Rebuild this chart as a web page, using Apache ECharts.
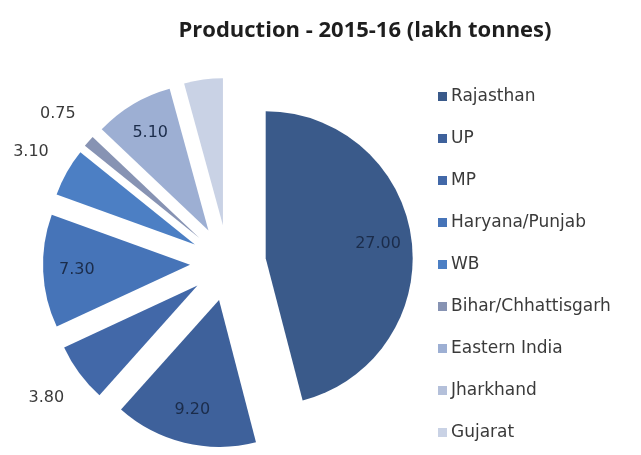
<!DOCTYPE html>
<html>
<head>
<meta charset="utf-8">
<script src="https://cdn.jsdelivr.net/npm/echarts@6/dist/echarts.min.js"></script>
<style>
  html, body { margin: 0; padding: 0; background: #ffffff; }
  #chart { width: 641px; height: 455px; }
</style>
</head>
<body>
<div id="chart"></div>
<script>
// Production by state, 2015-16, in lakh tonnes
const categories = ['Rajasthan', 'UP', 'MP', 'Haryana/Punjab', 'WB',
  'Bihar/Chhattisgarh', 'Eastern India', 'Jharkhand', 'Gujarat'];
const production = [27.00, 9.20, 3.80, 7.30, 3.10, 0.75, 5.10, 0, 2.50];
const sliceColors = ['#3a5a8a', '#3e619b', '#4268a8', '#4674b8', '#4c7fc4',
  '#8793b3', '#9dafd3', '#b4c0da', '#c9d2e5'];

// which value labels sit beyond the rim, and which are not drawn at all
const outerLabelNames = ['MP', 'WB', 'Bihar/Chhattisgarh'];
const hiddenLabelNames = ['Jharkhand', 'Gujarat'];

const TITLE_FONT = 'Open Sans';
const FONT = 'DejaVu Sans';
const R = 147;
const CENTER = [228, 263];
const EXPLODE = 38;

function sliceData(withColor, labelFilter, labelColor) {
  return categories.map((name, i) => ({
    name: name,
    value: production[i],
    selected: true,
    itemStyle: withColor ? { color: sliceColors[i] } : { color: 'rgba(0,0,0,0)' },
    label: {
      show: labelFilter ? labelFilter(name) : false,
      color: labelColor
    }
  }));
}

const common = {
  type: 'pie',
  center: CENTER,
  startAngle: 90,
  clockwise: true,
  selectedMode: 'multiple',
  selectedOffset: EXPLODE,
  avoidLabelOverlap: false,
  animation: false,
  labelLine: { show: false },
  emphasis: { disabled: true },
  select: { itemStyle: {} }
};

const valueLabel = p => p.value.toFixed(2);

const option = {
  backgroundColor: '#ffffff',
  title: {
    text: 'Production - 2015-16 (lakh tonnes)',
    left: 360,
    top: 15,
    textAlign: 'center',
    textStyle: { fontFamily: TITLE_FONT, fontSize: 22, fontWeight: 'bold', color: '#1e1e1e' }
  },
  legend: {
    orient: 'vertical',
    left: 433,
    top: 83,
    height: 365,
    icon: 'rect',
    itemWidth: 9,
    itemHeight: 9,
    itemGap: 25,
    selectedMode: false,
    data: categories,
    textStyle: { fontFamily: FONT, fontSize: 17, lineHeight: 17, color: '#3a3a3a', padding: [0, 0, 0, -1] }
  },
  series: [
    Object.assign({}, common, {
      name: 'slices',
      radius: [0, R],
      label: { show: false },
      data: sliceData(true, null)
    }),
    Object.assign({}, common, {
      name: 'inner labels',
      radius: [R * 0.5, R],
      silent: true,
      label: {
        position: 'inside',
        formatter: valueLabel,
        fontFamily: FONT,
        fontSize: 16
      },
      data: sliceData(false,
        n => !outerLabelNames.includes(n) && !hiddenLabelNames.includes(n), '#1b2c4a')
    }),
    Object.assign({}, common, {
      name: 'outer labels',
      radius: [R + 20, R + 56],
      silent: true,
      label: {
        position: 'inside',
        formatter: valueLabel,
        fontFamily: FONT,
        fontSize: 16
      },
      data: sliceData(false, n => outerLabelNames.includes(n), '#3a3a3a')
    })
  ]
};

const chart = echarts.init(document.getElementById('chart'), null, { renderer: 'canvas' });
chart.setOption(option);
</script>
</body>
</html>
